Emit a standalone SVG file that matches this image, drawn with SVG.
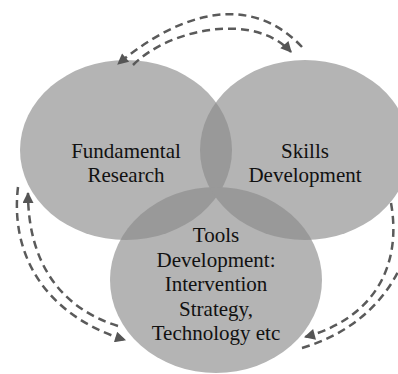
<svg xmlns="http://www.w3.org/2000/svg" width="398" height="374" viewBox="0 0 398 374">
<style>
.c{fill:#b4b4b4;stroke:none}
.o{fill:#999999;stroke:none}
.t{font-family:"Liberation Serif","Times New Roman",serif;font-size:21px;fill:#111;text-anchor:middle}
.d{fill:none;stroke:#5a5a5a;stroke-width:2.5;stroke-dasharray:8 5;marker-end:url(#ah)}
</style>
<defs>
<marker id="ah" viewBox="0 0 10 10" refX="9" refY="5" markerWidth="14" markerHeight="11" markerUnits="userSpaceOnUse" orient="auto">
<path d="M0,0 L10,5 L0,10 z" fill="#555555"/>
</marker>
<clipPath id="cR"><ellipse cx="305" cy="150" rx="105" ry="90"/></clipPath>
<clipPath id="cB"><ellipse cx="216" cy="280" rx="106" ry="93"/></clipPath>
</defs>
<g id="fundamental">
<ellipse class="c" cx="126" cy="150" rx="106" ry="90"/>
<text class="t" x="126" y="158">Fundamental</text>
<text class="t" x="126" y="182">Research</text>
</g>
<g id="skills">
<ellipse class="c" cx="305" cy="150" rx="105" ry="90"/>
<text class="t" x="305" y="158">Skills</text>
<text class="t" x="305" y="182">Development</text>
</g>
<g id="tools">
<ellipse class="c" cx="216" cy="280" rx="106" ry="93"/>
<text class="t" x="216" y="242">Tools</text>
<text class="t" x="216" y="266.5">Development:</text>
<text class="t" x="216" y="291">Intervention</text>
<text class="t" x="216" y="315.5">Strategy,</text>
<text class="t" x="216" y="340">Technology etc</text>
</g>
<g id="overlaps">
<ellipse class="o" cx="126" cy="150" rx="106" ry="90" clip-path="url(#cR)"/>
<ellipse class="o" cx="126" cy="150" rx="106" ry="90" clip-path="url(#cB)"/>
<ellipse class="o" cx="305" cy="150" rx="105" ry="90" clip-path="url(#cB)"/>
</g>
<g id="connectors">
<path class="d" d="M302,47 C250,-8 180,12 118,64"/>
<path class="d" d="M133,65 C170,28 255,12 291,52"/>
<path class="d" d="M18,187 C10,255 45,315 125,340"/>
<path class="d" d="M118,326 C60,308 28,262 28,193"/>
<path class="d" d="M391,203 C402,265 375,318 305,337"/>
<path class="d" d="M302,348 C380,325 420,260 412,190"/>
</g>
</svg>
